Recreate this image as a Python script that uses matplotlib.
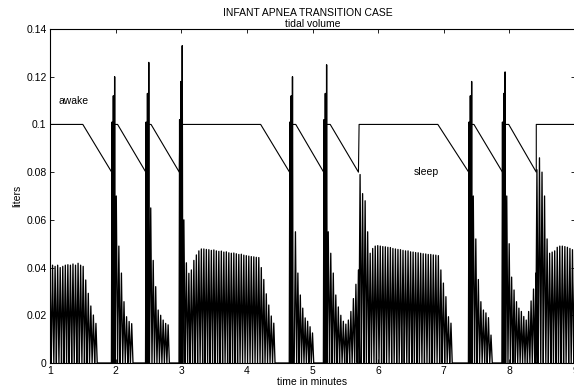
import matplotlib
matplotlib.use('Agg')
import matplotlib.pyplot as plt
import numpy as np

plt.rcParams['font.family'] = ['Liberation Sans', 'DejaVu Sans']

# arousal spikes: time in minutes, peak tidal volume in liters
spike_t = [1.945, 1.965, 1.985,
           2.465, 2.485, 2.505,
           2.975, 2.995, 3.015,
           4.655, 4.675, 4.695,
           5.175, 5.195, 5.215,
           7.385, 7.405, 7.425,
           7.895, 7.915, 7.935]
spike_v = [0.101, 0.112, 0.120,
           0.101, 0.113, 0.126,
           0.102, 0.118, 0.133,
           0.101, 0.112, 0.120,
           0.102, 0.113, 0.125,
           0.101, 0.112, 0.118,
           0.101, 0.113, 0.122]

# regular breathing episodes (start, end, breath peaks)
ep1 = [0.041, 0.041, 0.0405, 0.041, 0.040, 0.0405, 0.041, 0.0412, 0.041, 0.0415,
       0.041, 0.0418, 0.041, 0.0405, 0.0348, 0.0292, 0.0239, 0.0201, 0.0166]
ep2 = [0.070, 0.049, 0.0377, 0.0257, 0.0194, 0.0174, 0.0165]
ep3 = [0.065, 0.043, 0.032, 0.0222, 0.020, 0.018, 0.0166, 0.016]
ep4 = [0.060, 0.042, 0.0376, 0.039, 0.043, 0.0453, 0.047, 0.0478,
       0.0478, 0.0476, 0.0475, 0.0472, 0.0474, 0.047, 0.0468, 0.0469, 0.0465, 0.0466,
       0.0462, 0.046, 0.0461, 0.0458, 0.0455, 0.0456, 0.0452, 0.045, 0.0448, 0.0446,
       0.0445, 0.0443, 0.0442,
       0.040, 0.035, 0.029, 0.0243, 0.0197, 0.0167]
ep5 = [0.055, 0.0377, 0.0285, 0.023, 0.0189, 0.0175, 0.0152, 0.0126]
ep6 = [0.055, 0.046, 0.0377, 0.0285, 0.0235, 0.020, 0.0175, 0.0163, 0.018,
       0.0216, 0.027, 0.033, 0.039]
ep7 = [0.079, 0.071, 0.068, 0.055,
       0.046, 0.048, 0.049, 0.0492, 0.049, 0.0488, 0.0487, 0.0485, 0.0484, 0.048,
       0.0478, 0.0476, 0.0475, 0.0472, 0.047, 0.047, 0.0466, 0.0465, 0.0463, 0.0462,
       0.046, 0.0458, 0.0457, 0.0455, 0.0455, 0.0453, 0.0452, 0.045,
       0.039, 0.0335, 0.0278, 0.0194, 0.0167]
ep8 = [0.070, 0.052, 0.035, 0.0257, 0.0222, 0.021, 0.019, 0.0117]
ep9 = [0.070, 0.050, 0.036, 0.0306, 0.0257, 0.023, 0.0216, 0.0195, 0.018,
       0.0216, 0.026, 0.031, 0.0377]
ep10 = [0.081, 0.086, 0.080, 0.070, 0.052, 0.046, 0.0465, 0.047, 0.0485, 0.049,
        0.049, 0.0488, 0.0485, 0.048, 0.0475, 0.047]
ep_start = [1.00, 2.01, 2.535, 3.04, 4.74, 5.24, 5.725, 7.45, 7.96, 8.42]
ep_end = [1.70, 2.245, 2.80, 4.41, 5.00, 5.70, 7.11, 7.72, 8.405, 9.00]
episodes = [ep1, ep2, ep3, ep4, ep5, ep6, ep7, ep8, ep9, ep10]

# sleep/awake state line
state_t = [1.0, 1.50, 1.94, 1.955, 2.03, 2.46, 2.47, 2.54, 2.97, 2.98, 4.21, 4.65,
           4.66, 4.745, 5.17, 5.18, 5.27, 5.70, 5.71, 6.91, 7.38, 7.39, 7.46, 7.895,
           7.90, 7.99, 8.41, 8.41, 9.0]
state_v = [0.1, 0.1, 0.08, 0.1, 0.1, 0.08, 0.1, 0.1, 0.08, 0.1, 0.1, 0.08,
           0.1, 0.1, 0.08, 0.1, 0.1, 0.08, 0.1, 0.1, 0.08, 0.1, 0.1, 0.08,
           0.1, 0.1, 0.08, 0.1, 0.1]

yticks = [0, 0.02, 0.04, 0.06, 0.08, 0.1, 0.12, 0.14]
ytick_labels = ['0', '0.02', '0.04', '0.06', '0.08', '0.1', '0.12', '0.14']
xticks = [1, 2, 3, 4, 5, 6, 7, 8, 9]

# collect every breath as (time, peak, half width)
breaths = []
for t, v in zip(spike_t, spike_v):
    breaths.append((t, v, 0.009))
for s, e, peaks in zip(ep_start, ep_end, episodes):
    times = np.linspace(s, e, len(peaks))
    hw = (e - s) / (len(peaks) - 1) / 2
    for t, v in zip(times, peaks):
        breaths.append((t, v, hw))
breaths.sort()

vx = [1.0]
vy = [0.0]
for t, v, hw in breaths:
    vx += [t - hw, t, t + hw]
    vy += [0.0, v, 0.0]
vx.append(9.0)
vy.append(0.0)

fig = plt.figure(figsize=(5.74, 3.87), dpi=100)
ax = fig.add_axes([50 / 574, 24 / 387, 525 / 574, 334 / 387])

ax.plot(vx, vy, color='black', linewidth=0.95)
ax.plot(state_t, state_v, color='black', linewidth=0.8)

ax.text(1.13, 0.11, 'awake', fontsize=7.5, va='center', ha='left')
ax.text(6.55, 0.08, 'sleep', fontsize=7.5, va='center', ha='left')

ax.set_xlim(1, 9)
ax.set_ylim(0, 0.14)
ax.set_xticks(xticks)
ax.set_xticklabels([str(x) for x in xticks])
ax.set_yticks(yticks)
ax.set_yticklabels(ytick_labels)
ax.tick_params(direction='in', length=3, width=0.6, top=True, right=True,
               labelsize=7.5, pad=2.5)
for sp in ax.spines.values():
    sp.set_linewidth(0.8)

ax.set_xlabel('time in minutes', fontsize=7.5, labelpad=0.5)
ax.set_ylabel('liters', fontsize=7.5, labelpad=3)
fig.text(308 / 574, 1 - 13 / 387, 'INFANT APNEA TRANSITION CASE', fontsize=7.5,
         ha='center', va='center')
ax.set_title('tidal volume', fontsize=7.5, pad=1.5)

fig.savefig('out.png', dpi=100)
